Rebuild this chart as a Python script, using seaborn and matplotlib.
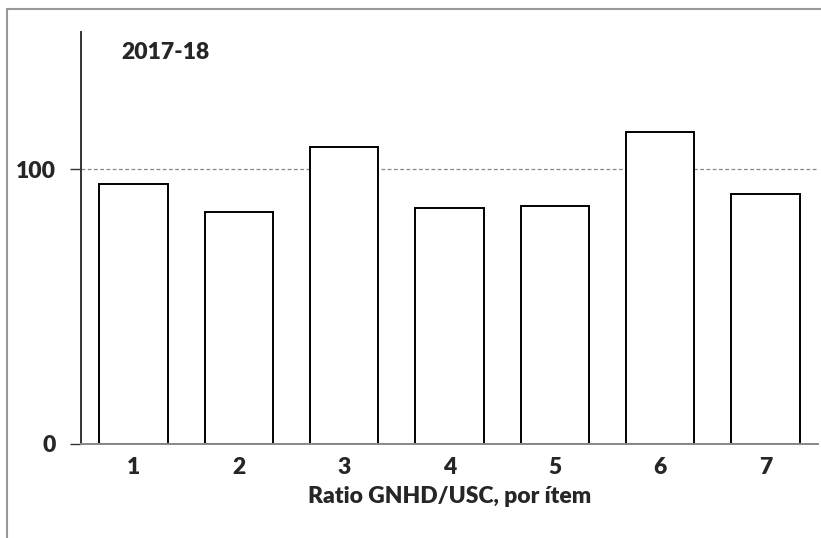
import matplotlib
matplotlib.use("Agg")
import matplotlib.pyplot as plt
import numpy as np
import pandas as pd
import seaborn as sns
from matplotlib.lines import Line2D

# values
items = ['1', '2', '3', '4', '5', '6', '7']
ratio = [94.5, 84.5, 108.0, 86.0, 86.5, 113.5, 91.0]
period = '2017-18'
x_title = 'Ratio GNHD/USC, por ítem'

df = pd.DataFrame({'item': items, 'ratio': ratio})

sns.set_theme(style="white")
plt.rcParams['font.family'] = ['Lato', 'DejaVu Sans']
W = 'heavy'
FS = 16.5

fig = plt.figure(figsize=(8.21, 5.38), dpi=100)
ax = fig.add_axes([81/821, 1-444/538, 737/821, (444-32)/538])

# reference line at 100 behind the bars
ax.axhline(100, color='#888888', lw=0.9, ls=(0, (3, 2)), zorder=0)

sns.barplot(data=df, x='item', y='ratio', color='white', edgecolor='black',
            linewidth=1.4, width=0.65, ax=ax, zorder=2)

ax.set_xlim(-0.5, len(items) - 0.5)
ax.set_ylim(0, 150)
ax.set_yticks([0, 100])
ax.set_yticklabels(['0', '100'], fontsize=FS, fontweight=W)
ax.set_xticks(range(len(items)))
ax.set_xticklabels(items, fontsize=FS, fontweight=W)
ax.set_xticks(np.arange(-0.5, len(items)), minor=True)
ax.tick_params(axis='x', which='major', length=0, pad=9)
ax.tick_params(axis='x', which='minor', length=8, width=1, color='#888888', direction='out')
ax.tick_params(axis='y', length=8, width=1, color='#333333', direction='out', left=True, pad=10)

ax.set_xlabel(x_title, fontsize=FS, fontweight=W, labelpad=6)
ax.set_ylabel('')

for s in ['top', 'right']:
    ax.spines[s].set_visible(False)
ax.spines['left'].set_color('#333333')
ax.spines['left'].set_linewidth(1.4)
ax.spines['bottom'].set_color('#888888')
ax.spines['bottom'].set_linewidth(1.4)
ax.spines['bottom'].set_zorder(5)

ax.text(0.055, 0.975, period, transform=ax.transAxes, fontsize=FS,
        fontweight=W, va='top', ha='left')

# outer frame (left and top only)
fig.add_artist(Line2D([7/821, 7/821], [0, 1-9/538], transform=fig.transFigure,
                      color='#999999', lw=1.5))
fig.add_artist(Line2D([7/821, 1], [1-9/538, 1-9/538], transform=fig.transFigure,
                      color='#999999', lw=1.5))

fig.savefig('out.png', dpi=100)
